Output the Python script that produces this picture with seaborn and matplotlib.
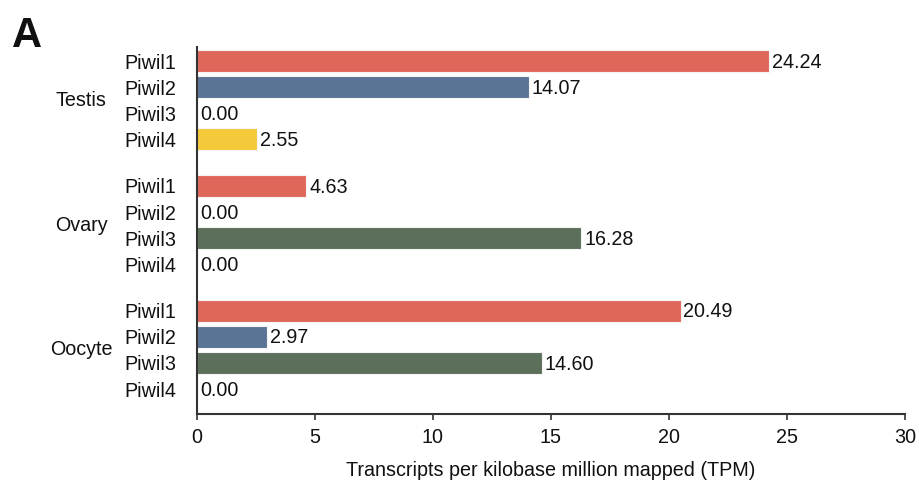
import matplotlib
matplotlib.use("Agg")
import matplotlib.pyplot as plt
import matplotlib.transforms as mtransforms
import numpy as np
import pandas as pd
import seaborn as sns

# Expression of Piwi-like genes by tissue
tissues = ["Testis", "Ovary", "Oocyte"]
genes = ["Piwil1", "Piwil2", "Piwil3", "Piwil4"]
testis_tpm = [24.24, 14.07, 0.00, 2.55]
ovary_tpm = [4.63, 0.00, 16.28, 0.00]
oocyte_tpm = [20.49, 2.97, 14.60, 0.00]
x_ticks = [0, 5, 10, 15, 20, 25, 30]

gene_colors = {"Piwil1": "#DF675A", "Piwil2": "#5A7495", "Piwil3": "#5B6F5A", "Piwil4": "#F4C93A"}

sns.set_theme(style="white")
plt.rcParams["font.family"] = ["Liberation Sans", "DejaVu Sans"]

FS = 14.2
group_step = 4.8  # four bars plus a gap between tissues
rows = []
for gi, (tissue, vals) in enumerate(zip(tissues, [testis_tpm, ovary_tpm, oocyte_tpm])):
    for ji, (gene, v) in enumerate(zip(genes, vals)):
        rows.append({"tissue": tissue, "gene": gene, "tpm": v, "pos": gi * group_step + ji})
df = pd.DataFrame(rows)

fig = plt.figure(figsize=(9.2, 4.84), dpi=100)
ax = fig.add_axes([197 / 920, 1 - 414 / 484, (905 - 197) / 920, (414 - 47) / 484])

sns.barplot(data=df, x="tpm", y="pos", hue="gene", palette=gene_colors, orient="h",
            native_scale=True, dodge=False, width=0.85, linewidth=0.8, saturation=1,
            edgecolor="#f4f4f4", legend=False, ax=ax)

for _, r in df.iterrows():
    ax.text(r["tpm"] + 0.12, r["pos"] + 0.04, f"{r['tpm']:.2f}", va="center", ha="left",
            fontsize=FS, color="#111111")

ax.set_xlim(0, 30)
ax.set_ylim(df["pos"].max() + 0.96, -0.54)
ax.set_xticks(x_ticks)
ax.set_xticklabels([str(t) for t in x_ticks], fontsize=FS, color="#111111")
ax.set_yticks(df["pos"])
ax.set_yticklabels(df["gene"], fontsize=FS, color="#111111")
ax.tick_params(axis="y", length=0, pad=15)
ax.tick_params(axis="x", length=4, width=1.2, color="#333333", pad=6, bottom=True, direction="out")
ax.set_xlabel("Transcripts per kilobase million mapped (TPM)", fontsize=FS, color="#111111", labelpad=10)
ax.set_ylabel("")

for side in ["top", "right"]:
    ax.spines[side].set_visible(False)
for side in ["left", "bottom"]:
    ax.spines[side].set_linewidth(1.5)
    ax.spines[side].set_color("#333333")

# tissue names centred on each group of bars
trans = mtransforms.blended_transform_factory(fig.transFigure, ax.transData)
for gi, tissue in enumerate(tissues):
    ax.text(81 / 920, gi * group_step + 1.5, tissue, transform=trans, ha="center", va="center",
            fontsize=FS, color="#111111")

fig.text(12 / 920, 1 - 47 / 484, "A", fontsize=30, fontweight="bold", ha="left", va="baseline",
         color="#111111")

fig.savefig("out.png", dpi=100)
